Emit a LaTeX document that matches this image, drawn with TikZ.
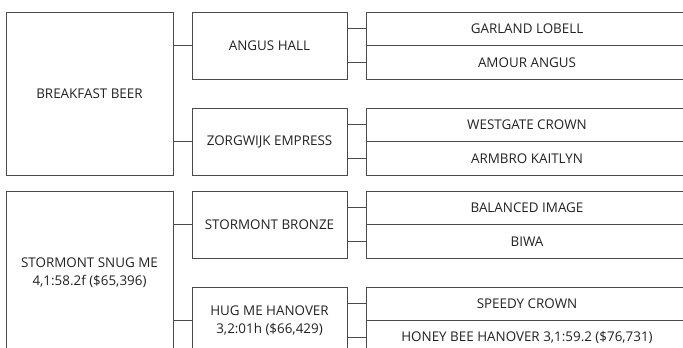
\documentclass[tikz,border=0pt]{standalone}
\usepackage{fontspec}
\setmainfont{Open Sans}
\definecolor{linec}{HTML}{4A4A4A}
\definecolor{textc}{HTML}{222222}
\begin{document}
\begin{tikzpicture}[x=1pt,y=-1pt,
  box/.style={draw=linec, line width=1pt, rectangle, inner sep=0pt, align=center,
    text=textc, font=\fontsize{13.4}{18.5}\selectfont},
  c1/.style={box, minimum width=167pt},
  c2/.style={box, minimum width=155pt},
  c3/.style={box, minimum width=322pt},
  big/.style={minimum height=163pt},
  mid/.style={minimum height=67pt},
  leaf/.style={minimum height=33.5pt},
  link/.style={draw=linec, line width=1pt}]
\useasboundingbox (0,0) rectangle (683,348);
\clip (0,0) rectangle (683,348);
% top group
\node[c1,big] (bb) at (89.5,93.5) {BREAKFAST BEER};
\node[c2,mid] (ah) at (269.5,45.5) {ANGUS HALL};
\node[c2,mid] (ze) at (269.5,141.5) {ZORGWIJK EMPRESS};
\node[c3,leaf] (gl) at (527,28.75) {GARLAND LOBELL};
\node[c3,leaf] (aa) at (527,62.25) {AMOUR ANGUS};
\node[c3,leaf] (wc) at (527,124.75) {WESTGATE CROWN};
\node[c3,leaf] (ak) at (527,158.25) {ARMBRO KAITLYN};
% bottom group
\node[c1,big] (ss) at (89.5,272.5) {STORMONT SNUG ME\\4,1:58.2f (\$65,396)};
\node[c2,mid] (sb) at (269.5,224.5) {STORMONT BRONZE};
\node[c2,mid] (hm) at (269.5,320.5) {HUG ME HANOVER\\3,2:01h (\$66,429)};
\node[c3,leaf] (bi) at (527,207.75) {BALANCED IMAGE};
\node[c3,leaf] (bw) at (527,241.25) {BIWA};
\node[c3,leaf] (sc) at (527,303.75) {SPEEDY CROWN};
\node[c3,leaf] (hb) at (527,337.25) {HONEY BEE HANOVER 3,1:59.2 (\$76,731)};
% connectors
\draw[link] (bb.east |- ah.west) -- (ah.west);
\draw[link] (bb.east |- ze.west) -- (ze.west);
\draw[link] (ah.east |- gl.west) -- (gl.west);
\draw[link] (ah.east |- aa.west) -- (aa.west);
\draw[link] (ze.east |- wc.west) -- (wc.west);
\draw[link] (ze.east |- ak.west) -- (ak.west);
\draw[link] (ss.east |- sb.west) -- (sb.west);
\draw[link] (ss.east |- hm.west) -- (hm.west);
\draw[link] (sb.east |- bi.west) -- (bi.west);
\draw[link] (sb.east |- bw.west) -- (bw.west);
\draw[link] (hm.east |- sc.west) -- (sc.west);
\draw[link] (hm.east |- hb.west) -- (hb.west);
\end{tikzpicture}
\end{document}
